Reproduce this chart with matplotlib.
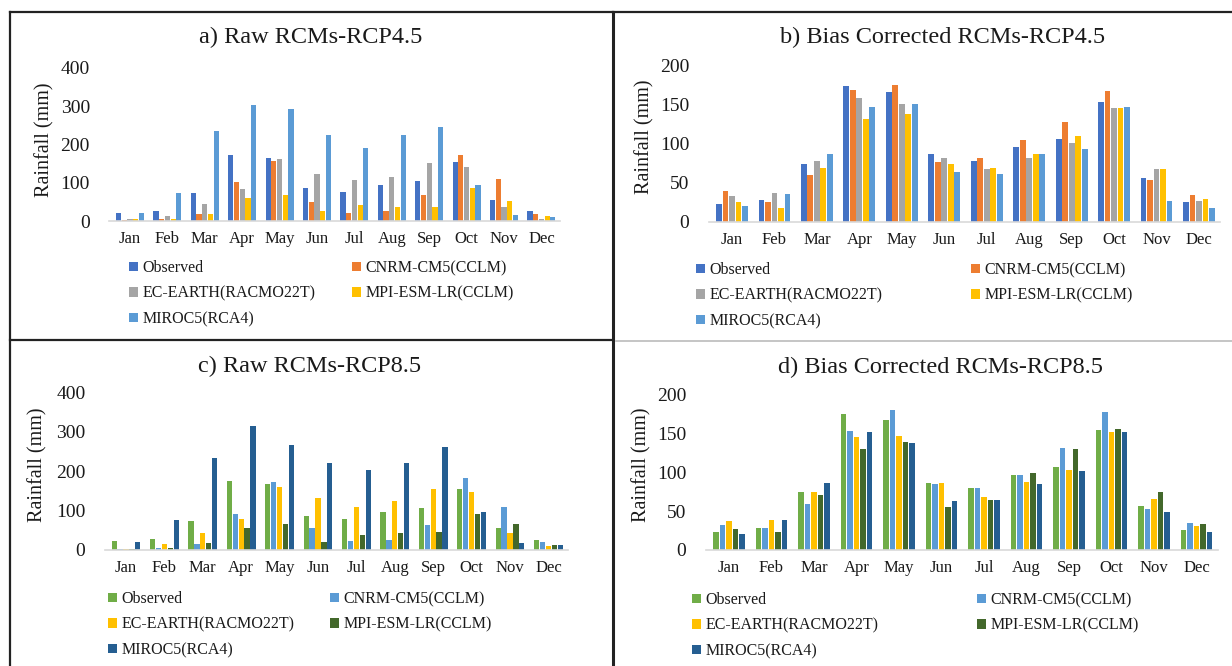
import matplotlib
matplotlib.use('Agg')
import matplotlib.pyplot as plt
from matplotlib.patches import Patch
from matplotlib.lines import Line2D
import numpy as np

plt.rcParams['font.family'] = ['Liberation Serif', 'DejaVu Serif']

W, H = 1232, 666

months = ['Jan', 'Feb', 'Mar', 'Apr', 'May', 'Jun', 'Jul', 'Aug', 'Sep', 'Oct', 'Nov', 'Dec']
models = ['Observed', 'CNRM-CM5(CCLM)', 'EC-EARTH(RACMO22T)', 'MPI-ESM-LR(CCLM)', 'MIROC5(RCA4)']

# a) Raw RCMs-RCP4.5
raw45_obs = [22, 27, 73, 172, 165, 85, 77, 95, 105, 153, 55, 25]
raw45_cnrm = [2, 5, 19, 102, 158, 50, 22, 26, 69, 172, 109, 19]
raw45_ecearth = [4, 13, 44, 83, 161, 124, 107, 115, 152, 140, 37, 6]
raw45_mpi = [5, 5, 18, 59, 68, 27, 41, 36, 36, 86, 52, 12]
raw45_miroc = [20, 72, 234, 303, 292, 224, 190, 224, 245, 94, 16, 11]

# b) Bias Corrected RCMs-RCP4.5
bc45_obs = [23, 28, 74, 173, 166, 86, 78, 95, 106, 153, 56, 25]
bc45_cnrm = [40, 25, 60, 168, 174, 77, 81, 104, 127, 167, 53, 34]
bc45_ecearth = [33, 37, 78, 158, 150, 82, 68, 81, 101, 145, 67, 27]
bc45_mpi = [25, 18, 69, 131, 138, 74, 69, 87, 109, 145, 67, 29]
bc45_miroc = [21, 36, 86, 147, 150, 64, 61, 87, 93, 146, 27, 18]

# c) Raw RCMs-RCP8.5
raw85_obs = [23, 27, 74, 174, 166, 87, 78, 96, 107, 154, 55, 26]
raw85_cnrm = [2, 5, 16, 92, 171, 56, 22, 25, 64, 182, 108, 20]
raw85_ecearth = [3, 15, 43, 78, 159, 132, 108, 123, 154, 146, 44, 10]
raw85_mpi = [2, 4, 17, 56, 67, 21, 39, 43, 45, 90, 67, 13]
raw85_miroc = [20, 75, 232, 313, 266, 219, 202, 219, 262, 96, 17, 13]

# d) Bias Corrected RCMs-RCP8.5
bc85_obs = [23, 28, 75, 174, 167, 86, 79, 96, 106, 154, 56, 26]
bc85_cnrm = [32, 28, 59, 152, 179, 85, 79, 96, 131, 177, 53, 35]
bc85_ecearth = [37, 39, 75, 145, 146, 86, 68, 87, 102, 151, 65, 31]
bc85_mpi = [27, 23, 71, 129, 138, 55, 64, 99, 129, 155, 75, 33]
bc85_miroc = [20, 38, 86, 151, 137, 63, 64, 84, 101, 151, 49, 23]

colors45 = ['#4472C4', '#ED7D31', '#A5A5A5', '#FFC000', '#5B9BD5']
colors85 = ['#70AD47', '#5B9BD5', '#FFC000', '#43682B', '#255E91']

TXT = '#1a1a1a'

panels = [
    dict(series=[raw45_obs, raw45_cnrm, raw45_ecearth, raw45_mpi, raw45_miroc], colors=colors45,
         ymax=400, yticks=[0, 100, 200, 300, 400], jan=130, sp=37.4, top=68, bot=221,
         title='a) Raw RCMs-RCP4.5', tpos=(311, 37), ylab=(45, 140),
         leg1=(129, 260), leg2=(352, 260), ypad=14),
    dict(series=[bc45_obs, bc45_cnrm, bc45_ecearth, bc45_mpi, bc45_miroc], colors=colors45,
         ymax=200, yticks=[0, 50, 100, 150, 200], jan=732, sp=42.45, top=65, bot=222,
         title='b) Bias Corrected RCMs-RCP4.5', tpos=(943, 37), ylab=(645, 137),
         leg1=(696, 262), leg2=(971, 262), ypad=14),
    dict(series=[raw85_obs, raw85_cnrm, raw85_ecearth, raw85_mpi, raw85_miroc], colors=colors85,
         ymax=400, yticks=[0, 100, 200, 300, 400], jan=126, sp=38.4, top=392, bot=550,
         title='c) Raw RCMs-RCP8.5', tpos=(310, 366), ylab=(38, 465),
         leg1=(108, 591), leg2=(330, 591), ypad=14),
    dict(series=[bc85_obs, bc85_cnrm, bc85_ecearth, bc85_mpi, bc85_miroc], colors=colors85,
         ymax=200, yticks=[0, 50, 100, 150, 200], jan=729, sp=42.5, top=394, bot=550,
         title='d) Bias Corrected RCMs-RCP8.5', tpos=(940, 367), ylab=(642, 465),
         leg1=(692, 592), leg2=(977, 592), ypad=14),
]

fig = plt.figure(figsize=(W / 100, H / 100), dpi=100)
fig.patch.set_facecolor('white')

x = np.arange(len(months))
slot = 0.153
bw = 0.138
XL0, XL1 = -0.55, 11.5

for p in panels:
    left = p['jan'] + XL0 * p['sp']
    right = p['jan'] + XL1 * p['sp']
    ax = fig.add_axes([left / W, 1 - p['bot'] / H, (right - left) / W, (p['bot'] - p['top']) / H])
    n = len(p['series'])
    for i, (vals, c) in enumerate(zip(p['series'], p['colors'])):
        ax.bar(x + (i - (n - 1) / 2) * slot, vals, width=bw, color=c, linewidth=0)
    ax.set_xlim(XL0, XL1)
    ax.set_ylim(0, p['ymax'])
    ax.set_yticks(p['yticks'])
    ax.set_xticks(x)
    ax.set_xticklabels(months)
    for s in ['top', 'right', 'left']:
        ax.spines[s].set_visible(False)
    ax.spines['bottom'].set_color('#D9D9D9')
    ax.spines['bottom'].set_linewidth(1.2)
    ax.tick_params(axis='y', length=0, pad=p['ypad'], labelsize=14, labelcolor=TXT)
    ax.tick_params(axis='x', length=0, pad=7, labelsize=12, labelcolor=TXT)
    ax.patch.set_alpha(0)

    fig.text(p['tpos'][0] / W, 1 - p['tpos'][1] / H, p['title'], ha='center', va='center',
             fontsize=17.5, color=TXT)
    fig.text(p['ylab'][0] / W, 1 - p['ylab'][1] / H, 'Rainfall (mm)', ha='center', va='center',
             rotation=90, fontsize=14.5, color=TXT)

    handles = [Patch(facecolor=c, edgecolor='none') for c in p['colors']]
    common = dict(loc='upper left', frameon=False, borderpad=0, borderaxespad=0,
                  handlelength=0.55, handleheight=0.55, handletextpad=0.3,
                  labelspacing=0.6, fontsize=11.5, labelcolor=TXT)
    fig.legend([handles[0], handles[2], handles[4]], [models[0], models[2], models[4]],
               bbox_to_anchor=(p['leg1'][0] / W, 1 - p['leg1'][1] / H), **common)
    fig.legend([handles[1], handles[3]], [models[1], models[3]],
               bbox_to_anchor=(p['leg2'][0] / W, 1 - p['leg2'][1] / H), **common)


def fline(xs, ys, color='#222222', lw=1.6):
    fig.add_artist(Line2D([v / W for v in xs], [1 - v / H for v in ys], color=color, lw=lw,
                          transform=fig.transFigure))


# panel frames
fline([10, 613], [12, 12])
fline([10, 10], [12, 666])
fline([613, 613], [12, 666], lw=2.2)
fline([10, 613], [340, 340])
fline([613, 1232], [12, 12])
fline([616, 1232], [341, 341], color='#BBBBBB', lw=1.2)

fig.savefig('out.png', dpi=100, facecolor='white')
